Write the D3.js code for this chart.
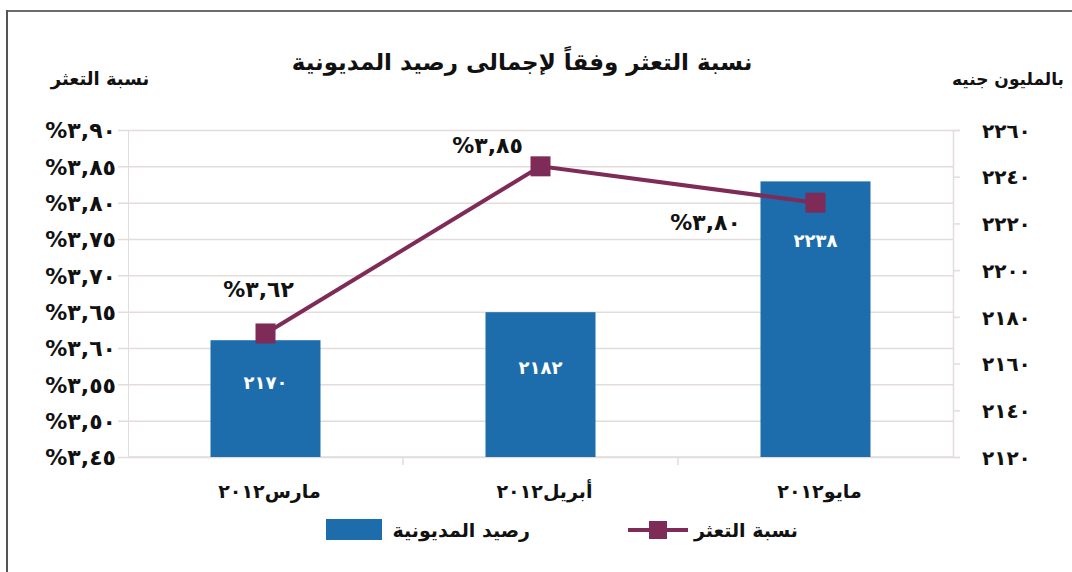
<!DOCTYPE html>
<html>
<head>
<meta charset="utf-8">
<script src="https://cdn.jsdelivr.net/npm/d3@7"></script>
<style>
  body { margin: 0; background: #fff; }
  svg text { font-family: "DejaVu Sans", "Liberation Sans", sans-serif; font-weight: bold; }
  .ltr { direction: ltr; unicode-bidi: bidi-override; }
</style>
</head>
<body>
<svg id="chart" width="1072" height="572"></svg>
<script>
// chart values
var months = ["مارس٢٠١٢", "أبريل٢٠١٢", "مايو٢٠١٢"];
var balance = [2170, 2182, 2238];          // رصيد المديونية (right axis)
var defaultRate = [3.62, 3.85, 3.80];      // نسبة التعثر (left axis)
var leftTicks = [3.45, 3.50, 3.55, 3.60, 3.65, 3.70, 3.75, 3.80, 3.85, 3.90];
var rightTicks = [2120, 2140, 2160, 2180, 2200, 2220, 2240, 2260];

var titleText = "نسبة التعثر وفقاً لإجمالى رصيد المديونية";
var leftTitle = "نسبة التعثر";
var rightTitle = "بالمليون جنيه";
var legendBar = "رصيد المديونية";
var legendLine = "نسبة التعثر";

// label placement (offsets only, not data)
var pctLabelOffset = [[-7, 36], [-53, 13], [-110, -27]];
var barLabelOffset = [49, 62, 66];

var BLUE = "#1d6cab", MAROON = "#7e2b58", GRID = "#e3dcdc";

//Western digits -> Arabic-Indic digits
function ar(s) {
  return String(s).replace(/[0-9]/g, function (c) { return "٠١٢٣٤٥٦٧٨٩"[+c]; });
}
function pct(v) { return "%" + ar(v.toFixed(2).replace(".", ",")); }

var svg = d3.select("#chart");

//frame (top and left edges only)
svg.append("line").attr("x1", 7).attr("x2", 1072).attr("y1", 11).attr("y2", 11)
  .attr("stroke", "#6b6b6b").attr("stroke-width", 2);
svg.append("line").attr("x1", 7).attr("x2", 7).attr("y1", 10).attr("y2", 572)
  .attr("stroke", "#555").attr("stroke-width", 2);

var pLeft = 128, pRight = 953, pTop = 130, pBottom = 457;

var x = d3.scaleBand().domain(months).range([pLeft, pRight]).padding(0);
var yL = d3.scaleLinear().domain([3.45, 3.90]).range([pBottom, pTop]);
var yR = d3.scaleLinear().domain([2120, 2260]).range([pBottom, pTop]);

//Gridlines + left axis
var gl = svg.append("g").attr("transform", "translate(" + pLeft + ",0)")
  .call(d3.axisLeft(yL).tickValues(leftTicks).tickSize(-(pRight - pLeft)).tickPadding(12).tickFormat(pct));
gl.select(".domain").attr("stroke", GRID);
gl.selectAll(".tick line").attr("stroke", GRID).attr("x1", -10).attr("stroke-width", 1.5);
gl.selectAll(".tick text").attr("class", "ltr").attr("fill", "#111").style("font-size", "22px")
  .attr("dy", "0.36em");

//Right axis
var gr = svg.append("g").attr("transform", "translate(" + pRight + ",0)")
  .call(d3.axisRight(yR).tickValues(rightTicks).tickSize(7).tickPadding(22).tickFormat(function (d) { return ar(d); }));
gr.select(".domain").attr("stroke", GRID).attr("stroke-width", 1.5);
gr.selectAll(".tick line").attr("stroke", GRID).attr("stroke-width", 1.5);
gr.selectAll(".tick text").attr("fill", "#111").style("font-size", "20px").attr("dy", "0.36em")
  .style("letter-spacing", "2px");

//Bottom axis with tick marks between categories
svg.append("line").attr("x1", pLeft).attr("x2", pRight).attr("y1", pBottom).attr("y2", pBottom)
  .attr("stroke", GRID).attr("stroke-width", 1.5);
svg.selectAll(".sep").data(months.slice(1)).enter().append("line")
  .attr("x1", function (d) { return x(d); }).attr("x2", function (d) { return x(d); })
  .attr("y1", pBottom).attr("y2", pBottom + 8).attr("stroke", GRID).attr("stroke-width", 1.5);
svg.selectAll(".xlab").data(months).enter().append("text")
  .attr("x", function (d) { return x(d) + x.bandwidth() / 2 + 4; })
  .attr("y", 498).attr("text-anchor", "middle").attr("fill", "#111")
  .style("font-size", "19px").text(function (d) { return d; });

//Bars
var bw = x.bandwidth() * 0.4;
svg.selectAll(".bar").data(balance).enter().append("rect")
  .attr("x", function (d, i) { return x(months[i]) + (x.bandwidth() - bw) / 2; })
  .attr("y", function (d) { return yR(d); })
  .attr("width", bw)
  .attr("height", function (d) { return pBottom - yR(d); })
  .attr("fill", BLUE);
svg.selectAll(".barlab").data(balance).enter().append("text")
  .attr("x", function (d, i) { return x(months[i]) + x.bandwidth() / 2; })
  .attr("y", function (d, i) { return yR(d) + barLabelOffset[i]; })
  .attr("text-anchor", "middle").attr("fill", "#fff").style("font-size", "18px")
  .style("letter-spacing", "3px")
  .text(function (d) { return ar(d); });

//Line with square markers
var cx = function (d, i) { return x(months[i]) + x.bandwidth() / 2; };
svg.append("path").datum(defaultRate)
  .attr("d", d3.line().x(cx).y(function (d) { return yL(d); }))
  .attr("fill", "none").attr("stroke", MAROON).attr("stroke-width", 4);
svg.selectAll(".mk").data(defaultRate).enter().append("rect")
  .attr("x", function (d, i) { return cx(d, i) - 10; })
  .attr("y", function (d) { return yL(d) - 10; })
  .attr("width", 20).attr("height", 20).attr("fill", MAROON);
svg.selectAll(".pctlab").data(defaultRate).enter().append("text")
  .attr("class", "ltr")
  .attr("x", function (d, i) { return cx(d, i) + pctLabelOffset[i][0]; })
  .attr("y", function (d, i) { return yL(d) - pctLabelOffset[i][1]; })
  .attr("text-anchor", "middle").attr("fill", "#111").style("font-size", "22px")
  .style("letter-spacing", "1px")
  .text(function (d) { return pct(d); });

//Titles
svg.append("text").attr("x", 522).attr("y", 70).attr("text-anchor", "middle")
  .attr("fill", "#111").style("font-size", "23px").text(titleText);
svg.append("text").attr("x", 100).attr("y", 85).attr("text-anchor", "middle")
  .attr("fill", "#111").style("font-size", "18px").text(leftTitle);
svg.append("text").attr("x", 1008).attr("y", 85).attr("text-anchor", "middle")
  .attr("fill", "#111").style("font-size", "17px").text(rightTitle);

//Legend
svg.append("rect").attr("x", 326).attr("y", 519).attr("width", 56).attr("height", 21).attr("fill", BLUE);
svg.append("text").attr("x", 530).attr("y", 537).attr("text-anchor", "end")
  .attr("fill", "#111").style("font-size", "19px").text(legendBar);
svg.append("line").attr("x1", 628).attr("x2", 688).attr("y1", 530).attr("y2", 530)
  .attr("stroke", MAROON).attr("stroke-width", 4);
svg.append("rect").attr("x", 649).attr("y", 521).attr("width", 18).attr("height", 18).attr("fill", MAROON);
svg.append("text").attr("x", 798).attr("y", 537).attr("text-anchor", "end")
  .attr("fill", "#111").style("font-size", "19px").text(legendLine);
</script>
</body>
</html>
